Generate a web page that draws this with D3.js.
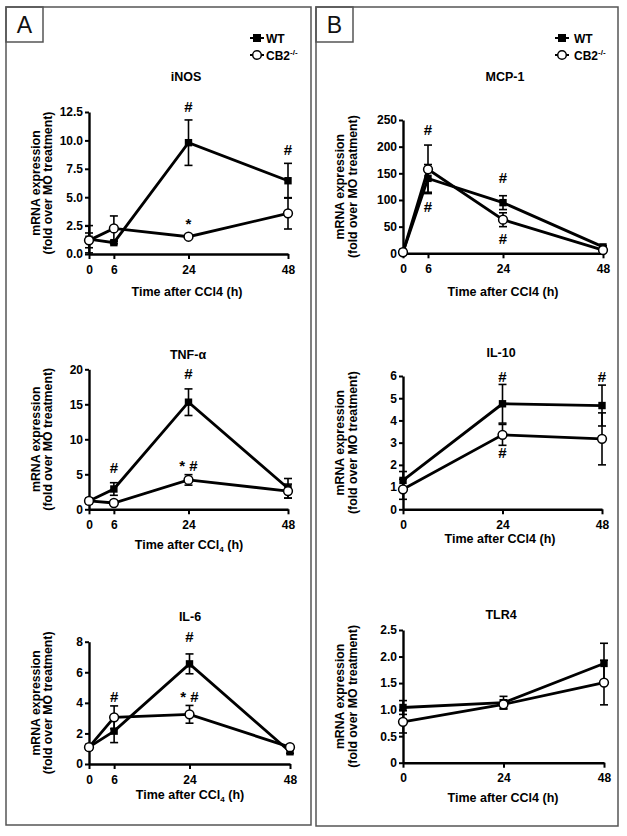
<!DOCTYPE html>
<html>
<head>
<meta charset="utf-8">
<script src="https://cdn.jsdelivr.net/npm/d3@7"></script>
<style>
  html, body { margin: 0; padding: 0; background: #fff; }
  svg { display: block; }
</style>
</head>
<body>
<svg id="chart" width="627" height="836"></svg>
<script>
// ---------------- DATA ----------------
const timesFull = [0, 6, 24, 48];
const timesShort = [0, 24, 48];

// iNOS
const inosWT = [1.3, 1.0, 9.8, 6.45];
const inosWTErr = [1.2, 0.1, 2.0, 1.53];
const inosCB2 = [1.2, 2.25, 1.52, 3.58];
const inosCB2Err = [0.65, 1.1, 0.1, 1.38];
const inosTicks = [0, 2.5, 5, 7.5, 10, 12.5];
const inosTickLabels = ["0.0", "2.5", "5.0", "7.5", "10.0", "12.5"];
const inosSig = [[24, 12.5, "#"], [48, 8.7, "#"], [24, 2.2, "*"]];

// MCP-1
const mcpWT = [2, 140.5, 95, 12];
const mcpWTErr = [0, 26, 13, 2];
const mcpCB2 = [2, 157.5, 63, 6];
const mcpCB2Err = [0, 45.5, 13, 2];
const mcpTicks = [0, 50, 100, 150, 200, 250];
const mcpTickLabels = ["0", "50", "100", "150", "200", "250"];
const mcpSig = [[6, 222, "#"], [6, 77.5, "#"], [24, 132, "#"], [24, 17.4, "#"]];

// TNF-alpha
const tnfWT = [1.2, 2.9, 15.3, 3.0];
const tnfWTErr = [0.2, 0.9, 1.9, 1.4];
const tnfCB2 = [1.2, 0.9, 4.2, 2.6];
const tnfCB2Err = [0.2, 0.2, 0.75, 1.0];
const tnfTicks = [0, 5, 10, 15, 20];
const tnfTickLabels = ["0", "5", "10", "15", "20"];
const tnfSig = [[6, 5.2, "#"], [24, 18.6, "#"], [24, 5.5, "* #"]];

// IL-10
const il10WT = [1.3, 4.75, 4.67];
const il10WTErr = [0.4, 0.87, 0.92];
const il10CB2 = [0.9, 3.35, 3.17];
const il10CB2Err = [0.45, 0.47, 1.17];
const il10Ticks = [0, 1, 2, 3, 4, 5, 6];
const il10TickLabels = ["0", "1", "2", "3", "4", "5", "6"];
const il10Sig = [[24, 5.73, "#"], [48, 5.73, "#"], [24, 2.3, "#"]];

// IL-6
const il6WT = [1.1, 2.15, 6.55, 0.8];
const il6WTErr = [0.1, 0.75, 0.65, 0.1];
const il6CB2 = [1.1, 3.05, 3.25, 1.1];
const il6CB2Err = [0.1, 0.75, 0.58, 0.1];
const il6Ticks = [0, 2, 4, 6, 8];
const il6TickLabels = ["0", "2", "4", "6", "8"];
const il6Sig = [[6, 4.05, "#"], [24, 7.97, "#"], [24, 4.05, "* #"]];

// TLR4
const tlrWT = [1.04, 1.13, 1.87];
const tlrWTErr = [0.13, 0.12, 0.38];
const tlrCB2 = [0.77, 1.1, 1.51];
const tlrCB2Err = [0.21, 0.08, 0.42];
const tlrTicks = [0, 0.5, 1.0, 1.5, 2.0, 2.5];
const tlrTickLabels = ["0", "0.5", "1.0", "1.5", "2.0", "2.5"];
const tlrSig = [];

const seriesNames = ["WT", "CB2"];

// ---------------- LAYOUT ----------------
const FONT = "'Liberation Sans', Arial, Helvetica, sans-serif";
const svg = d3.select("#chart");

const panels = [
  { title: "iNOS", times: timesFull, wt: inosWT, wtErr: inosWTErr, cb: inosCB2, cbErr: inosCB2Err,
    ticks: inosTicks, labels: inosTickLabels, sig: inosSig, sub: false,
    x0: 89, x1: 288, y0: 254, y1: 112, titleX: 186, titleY: 81, xtY: 296, xtX: 187, ylX: 39.5 },
  { title: "MCP-1", times: timesFull, wt: mcpWT, wtErr: mcpWTErr, cb: mcpCB2, cbErr: mcpCB2Err,
    ticks: mcpTicks, labels: mcpTickLabels, sig: mcpSig, sub: false,
    x0: 403, x1: 603, y0: 253.3, y1: 120, titleX: 505, titleY: 81, xtY: 296, xtX: 503, ylX: 344 },
  { title: "TNF-α", times: timesFull, wt: tnfWT, wtErr: tnfWTErr, cb: tnfCB2, cbErr: tnfCB2Err,
    ticks: tnfTicks, labels: tnfTickLabels, sig: tnfSig, sub: true,
    x0: 89, x1: 288, y0: 509.3, y1: 369.3, titleX: 188, titleY: 359, xtY: 549, xtX: 189, ylX: 39.5 },
  { title: "IL-10", times: timesShort, wt: il10WT, wtErr: il10WTErr, cb: il10CB2, cbErr: il10CB2Err,
    ticks: il10Ticks, labels: il10TickLabels, sig: il10Sig, sub: false,
    x0: 403, x1: 602, y0: 509.3, y1: 376, titleX: 501, titleY: 357, xtY: 543, xtX: 500, ylX: 344 },
  { title: "IL-6", times: timesFull, wt: il6WT, wtErr: il6WTErr, cb: il6CB2, cbErr: il6CB2Err,
    ticks: il6Ticks, labels: il6TickLabels, sig: il6Sig, sub: true,
    x0: 89, x1: 290, y0: 764, y1: 641.7, titleX: 190, titleY: 621, xtY: 799, xtX: 190, ylX: 39.5 },
  { title: "TLR4", times: timesShort, wt: tlrWT, wtErr: tlrWTErr, cb: tlrCB2, cbErr: tlrCB2Err,
    ticks: tlrTicks, labels: tlrTickLabels, sig: tlrSig, sub: false,
    x0: 403, x1: 604, y0: 762.7, y1: 630, titleX: 501, titleY: 619, xtY: 802, xtX: 503, ylX: 344 }
];

// Frames
const frames = [
  { x: 6, y: 7, w: 305, h: 818, letter: "A", lx: 266, mx: 257, l0: 250, l1: 264 },
  { x: 316, y: 7, w: 302, h: 819, letter: "B", lx: 574, mx: 562, l0: 555, l1: 569 }
];
frames.forEach(f => {
  svg.append("rect").attr("x", f.x).attr("y", f.y).attr("width", f.w).attr("height", f.h)
    .attr("fill", "none").attr("stroke", "#555").attr("stroke-width", 1.5);
  svg.append("rect").attr("x", f.x).attr("y", f.y).attr("width", 37).attr("height", 35)
    .attr("fill", "none").attr("stroke", "#555").attr("stroke-width", 1.5);
  svg.append("text").attr("x", f.x + 18.5).attr("y", f.y + 26).attr("text-anchor", "middle")
    .attr("font-family", FONT).attr("font-size", 23).attr("fill", "#111").text(f.letter);
  // legend
  const lg = svg.append("g");
  seriesNames.forEach((s, i) => {
    const yy = 38 + i * 17;
    lg.append("line").attr("x1", f.l0).attr("x2", f.l1).attr("y1", yy).attr("y2", yy)
      .attr("stroke", "#000").attr("stroke-width", 2);
    if (i === 0) {
      lg.append("rect").attr("x", f.mx - 4).attr("y", yy - 4).attr("width", 8).attr("height", 8).attr("fill", "#000");
    } else {
      lg.append("circle").attr("cx", f.mx).attr("cy", yy).attr("r", 4.3).attr("fill", "#fff")
        .attr("stroke", "#000").attr("stroke-width", 1.5);
    }
    const t = lg.append("text").attr("x", f.lx).attr("y", yy + 4.5).attr("font-family", FONT)
      .attr("font-size", 12).attr("font-weight", "bold").attr("fill", "#000");
    if (i === 0) t.text("WT");
    else {
      t.append("tspan").text("CB2");
      t.append("tspan").attr("dy", -5).attr("font-size", 8).text("-/-");
    }
  });
});

function drawPanel(p) {
  const g = svg.append("g");
  const x = d3.scaleLinear().domain([0, 48]).range([p.x0, p.x1]);
  const y = d3.scaleLinear().domain([0, p.ticks[p.ticks.length - 1]]).range([p.y0, p.y1]);

  // Axes
  const yAxis = d3.axisLeft(y).tickValues(p.ticks).tickSize(4).tickSizeOuter(0).tickPadding(2)
    .tickFormat((d, i) => p.labels[i]);
  const xAxis = d3.axisBottom(x).tickValues(p.times).tickSize(5).tickSizeOuter(0).tickPadding(6)
    .tickFormat(d => String(d));

  const ya = g.append("g").attr("transform", `translate(${p.x0},0)`).call(yAxis);
  const xa = g.append("g").attr("transform", `translate(0,${p.y0})`).call(xAxis);
  [ya, xa].forEach(a => {
    a.select(".domain").attr("stroke", "#000").attr("stroke-width", 2.4);
    a.selectAll(".tick line").attr("stroke", "#000").attr("stroke-width", 2);
    a.selectAll(".tick text").attr("font-family", FONT).attr("font-size", 12)
      .attr("font-weight", "bold").attr("fill", "#000");
  });

  // Title
  g.append("text").attr("x", p.titleX).attr("y", p.titleY).attr("text-anchor", "middle")
    .attr("font-family", FONT).attr("font-size", 12.5).attr("font-weight", "bold").text(p.title);

  // X axis title
  const xt = g.append("text").attr("x", p.xtX).attr("y", p.xtY).attr("text-anchor", "middle")
    .attr("font-family", FONT).attr("font-size", 12.5).attr("font-weight", "bold");
  if (p.sub) {
    xt.append("tspan").text("Time after CCl");
    xt.append("tspan").attr("dy", 3).attr("font-size", 8).text("4");
    xt.append("tspan").attr("dy", -3).text(" (h)");
  } else {
    xt.text("Time after CCl4 (h)");
  }

  // Y axis title (two lines)
  const cy = (p.y0 + p.y1) / 2;
  ["mRNA expression", "(fold over MO treatment)"].forEach((s, i) => {
    g.append("text").attr("transform", `translate(${p.ylX + i * 12.5},${cy}) rotate(-90)`)
      .attr("text-anchor", "middle").attr("font-family", FONT).attr("font-size", 12.3)
      .attr("font-weight", "bold").text(s);
  });

  const line = d3.line().x((d, i) => x(p.times[i])).y(d => y(d));

  // lines
  [p.wt, p.cb].forEach(vals => {
    g.append("path").attr("d", line(vals)).attr("fill", "none").attr("stroke", "#000")
      .attr("stroke-width", 2.8).attr("stroke-linejoin", "miter");
  });

  // error bars
  [[p.wt, p.wtErr], [p.cb, p.cbErr]].forEach(([vals, errs]) => {
    vals.forEach((v, i) => {
      const e = errs[i];
      if (!e) return;
      const cx = x(p.times[i]);
      const lo = Math.max(0, v - e), hi = v + e;
      g.append("line").attr("x1", cx).attr("x2", cx).attr("y1", y(lo)).attr("y2", y(hi))
        .attr("stroke", "#000").attr("stroke-width", 1.6);
      [lo, hi].forEach(b => {
        g.append("line").attr("x1", cx - 4).attr("x2", cx + 4).attr("y1", y(b)).attr("y2", y(b))
          .attr("stroke", "#000").attr("stroke-width", 1.6);
      });
    });
  });

  // markers
  p.wt.forEach((v, i) => {
    g.append("rect").attr("x", x(p.times[i]) - 3.7).attr("y", y(v) - 3.7)
      .attr("width", 7.4).attr("height", 7.4).attr("fill", "#000");
  });
  p.cb.forEach((v, i) => {
    g.append("circle").attr("cx", x(p.times[i])).attr("cy", y(v)).attr("r", 4.4)
      .attr("fill", "#fff").attr("stroke", "#000").attr("stroke-width", 1.5);
  });

  // significance marks
  p.sig.forEach(([t, v, s]) => {
    g.append("text").attr("x", x(t)).attr("y", y(v)).attr("text-anchor", "middle")
      .attr("font-family", FONT).attr("font-size", 15).attr("font-weight", "bold")
      .attr("fill", "#000").attr("xml:space", "preserve").style("white-space", "pre").text(s);
  });
}

panels.forEach(drawPanel);
</script>
</body>
</html>
